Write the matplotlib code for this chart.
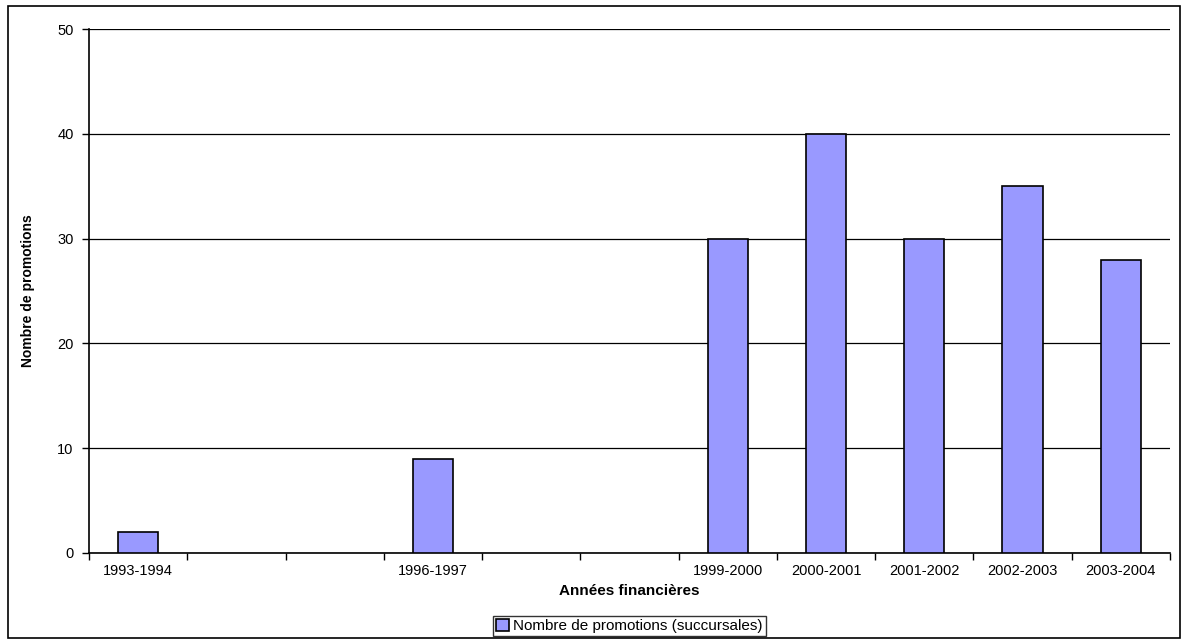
import matplotlib
matplotlib.use("Agg")
import matplotlib.pyplot as plt
from matplotlib.patches import Rectangle
import numpy as np

# fiscal years (empty slots have no label and no bar)
years = ["1993-1994", "", "", "1996-1997", "", "", "1999-2000",
         "2000-2001", "2001-2002", "2002-2003", "2003-2004"]
promotions = [2, 0, 0, 9, 0, 0, 30, 40, 30, 35, 28]

plt.rcParams["font.family"] = ["Liberation Sans", "DejaVu Sans"]

fig = plt.figure(figsize=(11.83, 6.41), dpi=100)
ax = fig.add_axes([89 / 1183, 88 / 641, 1081 / 1183, 524 / 641])

x = np.arange(len(years))
edges = ["black" if v > 0 else "none" for v in promotions]
ax.bar(x, promotions, width=0.41, color="#9999FF", edgecolor=edges,
       linewidth=1.2, zorder=3, label="Nombre de promotions (succursales)")

ax.set_xlim(-0.5, len(years) - 0.5)
ax.set_ylim(0, 50)
ax.set_yticks(np.arange(0, 51, 10))
ax.yaxis.grid(True, color="black", linewidth=0.9, zorder=0)

# labels centred under each slot, ticks on slot boundaries
ax.set_xticks(x)
ax.set_xticklabels(years, fontsize=10.5)
ax.tick_params(axis="x", which="major", length=0, pad=8)
ax.set_xticks(np.arange(-0.5, len(years)), minor=True)
ax.tick_params(axis="x", which="minor", length=5, width=1, direction="out")
ax.tick_params(axis="y", length=5, width=1, labelsize=10.5, pad=6)

for side in ["top", "right"]:
    ax.spines[side].set_visible(False)
ax.spines["left"].set_linewidth(1.2)
ax.spines["bottom"].set_linewidth(1.2)

ax.set_xlabel("Années financières", fontsize=11, fontweight="bold", labelpad=4)
ax.set_ylabel("Nombre de promotions", fontsize=10, fontweight="bold", labelpad=16)

leg = ax.legend(loc="upper center", bbox_to_anchor=(0.5, -0.12), fontsize=11,
                frameon=True, fancybox=False, edgecolor="black",
                handlelength=0.8, handleheight=0.8, handletextpad=0.3,
                borderpad=0.2, borderaxespad=0)
leg.get_frame().set_linewidth(1.0)

fig.patches.append(Rectangle((8 / 1183, 3 / 641), 1172 / 1183, 632 / 641,
                             transform=fig.transFigure, fill=False,
                             edgecolor="black", linewidth=1.2))

fig.savefig("out.png", dpi=100)
